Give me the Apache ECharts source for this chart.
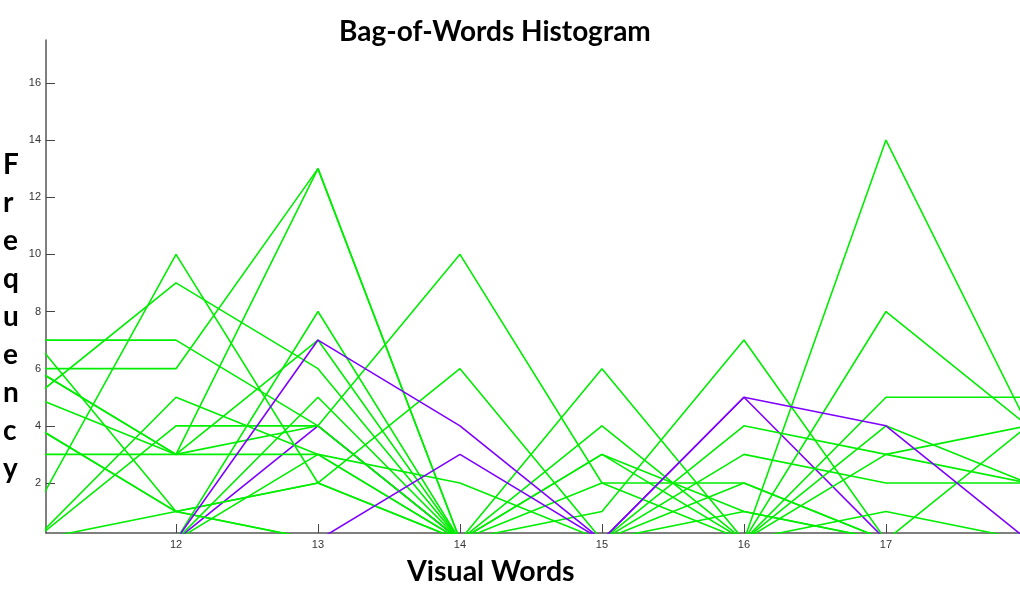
<!DOCTYPE html>
<html>
<head>
<meta charset="utf-8">
<script src="https://cdn.jsdelivr.net/npm/echarts@6/dist/echarts.min.js"></script>
<style>
  html, body { margin: 0; padding: 0; background: #fff; }
  #main { width: 1020px; height: 593px; }
</style>
</head>
<body>
<div id="main"></div>
<script>
// visual word index on the x axis
var words = [11, 12, 13, 14, 15, 16, 17, 18];
var xTicks = [12, 13, 14, 15, 16, 17];
var yTicks = [2, 4, 6, 8, 10, 12, 14, 16];

// one histogram per image, frequency per word
var green1 = [1, 10, 2, 6, 0, 0, 14, 4];
var green2 = [5, 9, 6, 0, 6, 0, 0, 0];
var green3 = [7, 7, 4, 10, 2, 2, 0, 4];
var green4 = [6, 6, 13, 0, 4, 0, 8, 4];
var green5 = [3, 3, 13, 0, 3, 1, 0, 0];
var green6 = [6, 3, 7, 0, 3, 0, 5, 5];
var green7 = [6, 3, 4, 0, 1, 7, 0, 0];
var green8 = [5, 3, 3, 2, 0, 0, 3, 4];
var green9 = [0, 5, 3, 0, 0, 4, 3, 2];
var green10 = [0, 4, 4, 0, 2, 0, 1, 0];
var green11 = [7, 1, 2, 0, 0, 0, 0, 0];
var green12 = [4, 1, 0, 0, 0, 3, 2, 2];
var green13 = [4, 1, 0, 0, 0, 0, 0, 0];
var green14 = [0, 1, 2, 0, 0, 2, 0, 0];
var green15 = [0, 0, 8, 0, 0, 0, 0, 0];
var green16 = [0, 0, 5, 0, 0, 1, 0, 0];
var green17 = [0, 0, 3, 0, 0, 0, 0, 0];
var green18 = [0, 0, 0, 0, 0, 0, 4, 2];

var purple1 = [0, 0, 7, 4, 0, 5, 4, 0];
var purple2 = [0, 0, 4, 0, 0, 5, 0, 0];
var purple3 = [0, 0, 0, 3, 0, 0, 0, 0];

var greens = [green1, green2, green3, green4, green5, green6, green7, green8, green9,
  green10, green11, green12, green13, green14, green15, green16, green17, green18];

function toLine(vals, color) {
  return {
    type: 'line',
    data: words.map(function (w, i) { return [w, vals[i]]; }),
    showSymbol: false,
    clip: true,
    lineStyle: { color: color, width: 1.6 },
    itemStyle: { color: color },
    silent: true
  };
}

// purple2 goes under the greens (its 13->14 drop sits below green ones)
var series = [toLine(purple2, '#7f00ff')]
  .concat(greens.map(function (g) { return toLine(g, '#00ee00'); }))
  .concat([toLine(purple1, '#7f00ff'), toLine(purple3, '#7f00ff')]);

var chart = echarts.init(document.getElementById('main'));
chart.setOption({
  animation: false,
  backgroundColor: '#fff',
  grid: { left: 46, right: 0, top: 40, bottom: 60 },
  xAxis: {
    type: 'value',
    min: 11.0845,
    max: 17.944,
    splitLine: { show: false },
    axisLine: { lineStyle: { color: '#555', width: 1.5 } },
    axisTick: { inside: true, length: 9, customValues: xTicks, lineStyle: { color: '#444' } },
    axisLabel: { customValues: xTicks, color: '#333', fontFamily: 'Liberation Sans', fontSize: 11, margin: 6 }
  },
  yAxis: {
    type: 'value',
    min: 0.25,
    max: 17.5,
    splitLine: { show: false },
    axisLine: { show: true, lineStyle: { color: '#555', width: 1.5 } },
    axisTick: { show: true, inside: true, length: 9, customValues: yTicks, lineStyle: { color: '#444' } },
    axisLabel: { customValues: yTicks, color: '#333', fontFamily: 'Liberation Sans', fontSize: 11, margin: 5 }
  },
  graphic: [
    {
      type: 'text', left: 339, top: 18,
      style: { text: 'Bag-of-Words Histogram', font: 'bold 28px Lato', fill: '#000' }
    },
    {
      type: 'text', left: 407, top: 557,
      style: { text: 'Visual Words', font: 'bold 28.5px Lato', fill: '#000' }
    },
    {
      type: 'text', left: 3, top: 146,
      style: { text: 'F\nr\ne\nq\nu\ne\nn\nc\ny', font: 'bold 28px Lato', lineHeight: 38, align: 'center', x: 11, fill: '#000' }
    }
  ],
  series: series
});
</script>
</body>
</html>
